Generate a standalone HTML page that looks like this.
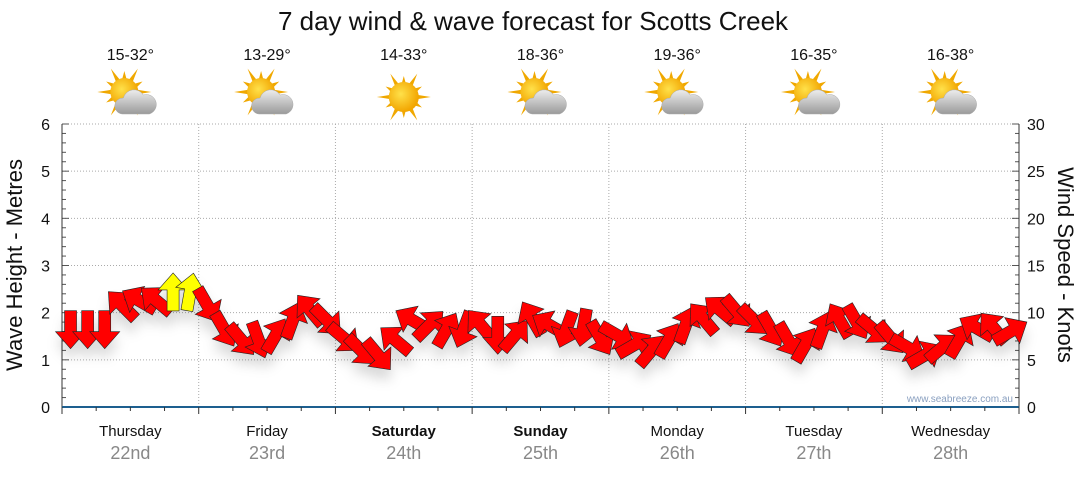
<!DOCTYPE html>
<html><head><meta charset="utf-8"><style>
body{margin:0;background:#fff;font-family:"Liberation Sans",sans-serif}
svg text{font-family:"Liberation Sans",sans-serif}
</style></head><body>
<svg id="c" width="1080" height="475" viewBox="0 0 1080 475">
<defs>
<filter id="sh" x="-50%" y="-50%" width="200%" height="250%"><feDropShadow dx="0" dy="10" stdDeviation="6" flood-color="#000" flood-opacity="0.15"/></filter>
<radialGradient id="sun" cx="0.4" cy="0.4" r="0.6"><stop offset="0" stop-color="#ffe14a"/><stop offset="1" stop-color="#f2a500"/></radialGradient>
<linearGradient id="cloud" x1="0" y1="0" x2="0" y2="1"><stop offset="0" stop-color="#ededed"/><stop offset="1" stop-color="#9a9a9a"/></linearGradient>
</defs>
<text x="533" y="30" text-anchor="middle" font-size="26" fill="#111">7 day wind &amp; wave forecast for Scotts Creek</text>
<g id="grid"></g><g id="axes"></g><g id="icons"></g><g id="arrows" filter="url(#sh)"></g>
<text x="1013" y="402" text-anchor="end" font-size="10" fill="#8aa0c0">www.seabreeze.com.au</text>
<text transform="translate(22,265) rotate(-90)" text-anchor="middle" font-size="22" fill="#111">Wave Height - Metres</text>
<text transform="translate(1058,265) rotate(90)" text-anchor="middle" font-size="22" fill="#111">Wind Speed - Knots</text>
</svg>
<script>
const days=["Thursday","Friday","Saturday","Sunday","Monday","Tuesday","Wednesday"];
const dates=["22nd","23rd","24th","25th","26th","27th","28th"];
const boldDays=[false,false,true,true,false,false,false];
const temps=["15-32°","13-29°","14-33°","18-36°","19-36°","16-35°","16-38°"];
const sunny=[false,false,true,false,false,false,false];
const waveTicks=[0,1,2,3,4,5,6];
const windTicks=[0,5,10,15,20,25,30];
const windSpeed=[8.2,8.2,8.2,10.8,11.3,11.3,12.2,12.2,10.8,8.2,7.1,7.1,7.6,9.2,10.3,9.2,7.3,6.0,5.5,7.1,9.2,8.7,8.2,8.2,8.7,7.6,7.6,9.4,8.7,8.2,8.4,7.3,7.6,6.6,6.0,7.1,8.7,9.4,10.3,10.1,9.2,8.2,7.1,6.6,8.2,9.2,9.0,8.2,7.3,6.3,5.5,6.3,7.1,8.4,8.4,8.0];
const windDir=[180,180,180,315,300,310,0,10,150,150,140,160,30,20,320,135,130,135,140,310,300,45,30,200,320,180,40,330,300,200,190,150,120,60,40,30,20,320,310,140,135,150,150,30,20,330,150,130,140,120,60,50,30,300,320,60];
const X0=62,X1=1019,Y0=407,Y1=124;
const xH=h=>X0+(X1-X0)*h/168;
const yM=m=>Y0-(Y0-Y1)*m/6;
const yK=k=>Y0-(Y0-Y1)*k/30;
const NS="http://www.w3.org/2000/svg";
function mk(t,a,p){const e=document.createElementNS(NS,t);for(const k in a)e.setAttribute(k,a[k]);p.appendChild(e);return e;}
const grid=document.getElementById('grid'),axes=document.getElementById('axes'),icons=document.getElementById('icons'),arr=document.getElementById('arrows');
waveTicks.forEach(v=>{if(v>0){const l=mk('line',{x1:X0,x2:X1,y1:yM(v),y2:yM(v),stroke:'#aaa','stroke-dasharray':'1,2'},grid);}
const t=mk('text',{x:50,y:yM(v)+6,'text-anchor':'end','font-size':16,fill:'#111'},axes);t.textContent=v;});
windTicks.forEach(v=>{const t=mk('text',{x:1027,y:yK(v)+6,'font-size':16,fill:'#111'},axes);t.textContent=v;});
for(let i=0;i<=30;i++){const y=Y0-(Y0-Y1)*i/30;mk('line',{x1:X0,x2:X0+(i%5?4:7),y1:y,y2:y,stroke:'#555'},axes);mk('line',{x1:X1,x2:X1-(i%5?4:7),y1:y,y2:y,stroke:'#555'},axes);}
mk('line',{x1:X0,x2:X0,y1:Y1,y2:Y0,stroke:'#333'},axes);mk('line',{x1:X1,x2:X1,y1:Y1,y2:Y0,stroke:'#333'},axes);
mk('line',{x1:X0,x2:X1,y1:Y0,y2:Y0,stroke:'#1d5f8f','stroke-width':2},axes);
for(let h=0;h<=168;h+=6){mk('line',{x1:xH(h),x2:xH(h),y1:Y0,y2:Y0+(h%24?4:7),stroke:'#333'},axes);}
days.forEach((d,i)=>{
 if(i>0){const l=mk('line',{x1:xH(24*i),x2:xH(24*i),y1:Y1,y2:Y0,stroke:'#aaa','stroke-dasharray':'1,2'},grid);}
 const cx=xH(24*i+12);
 const t=mk('text',{x:cx,y:436,'text-anchor':'middle','font-size':15,fill:'#111','font-weight':boldDays[i]?'bold':'normal'},axes);t.textContent=d;
 const t2=mk('text',{x:cx,y:459,'text-anchor':'middle','font-size':18,fill:'#888'},axes);t2.textContent=dates[i];
 const t3=mk('text',{x:cx,y:60,'text-anchor':'middle','font-size':16,fill:'#111'},icons);t3.textContent=temps[i];
 const g=mk('g',{transform:`translate(${cx},97)`},icons);
 const sx=sunny[i]?0:-6,sy=sunny[i]?0:-5;
 for(let a=0;a<360;a+=30){const r=a*Math.PI/180;const L=a%60?21:27;mk('polygon',{points:`${sx+Math.cos(r-0.17)*13},${sy+Math.sin(r-0.17)*13} ${sx+Math.cos(r)*L},${sy+Math.sin(r)*L} ${sx+Math.cos(r+0.17)*13},${sy+Math.sin(r+0.17)*13}`,fill:'#f0a800'},g);}
 mk('circle',{cx:sx,cy:sy,r:sunny[i]?15:14,fill:'url(#sun)'},g);
 if(!sunny[i]){mk('path',{d:'M-8,17 a8,8 0 0 1 1,-16 a11,11 0 0 1 20,-3 a8,8 0 0 1 6,19 z',fill:'url(#cloud)',stroke:'#aaa','stroke-width':0.5},g);}
});
windSpeed.forEach((s,i)=>{
 const cx=xH(i*3+1.5),cy=yK(s);
 const p=mk('polygon',{points:'0,-19 15,-2 6,-2 6,19 -6,19 -6,-2 -15,-2',transform:`translate(${cx},${cy}) rotate(${windDir[i]})`,fill:(i==6||i==7)?'#ffff00':'#ff0000',stroke:'#222','stroke-width':0.6},arr);
 
 
});
</script>
</body></html>
